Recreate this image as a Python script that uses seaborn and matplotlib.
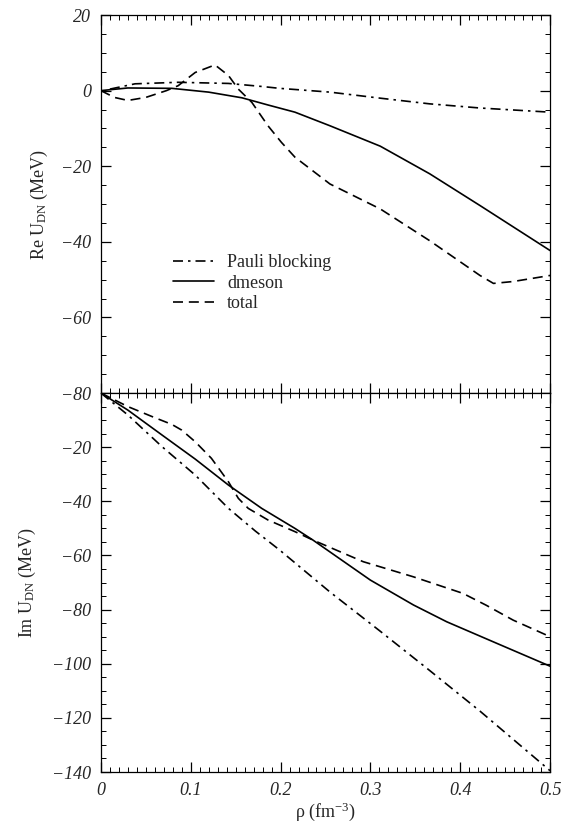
import numpy as np
import pandas as pd
import matplotlib
matplotlib.use("Agg")
import matplotlib.pyplot as plt
from matplotlib.ticker import MultipleLocator
import seaborn as sns

# --- data (rho in fm^-3, U in MeV) ---
# real part
pauli_re_x = [0.01, 0.038, 0.086, 0.142, 0.179, 0.199, 0.216, 0.255, 0.311, 0.366, 0.422, 0.5]
pauli_re_y = [0.4, 1.8, 2.2, 1.9, 1.1, 0.6, 0.3, -0.4, -2.0, -3.5, -4.6, -5.7]

dmeson_re_x = [0.0, 0.03, 0.079, 0.12, 0.157, 0.186, 0.216, 0.255, 0.311, 0.366, 0.422, 0.5]
dmeson_re_y = [0.0, 0.7, 0.6, -0.4, -1.9, -3.8, -5.7, -9.3, -14.7, -22.0, -30.4, -42.3]

total_re_x = [0.0, 0.015, 0.03, 0.05, 0.073, 0.086, 0.105, 0.127, 0.142, 0.153, 0.168, 0.186,
              0.201, 0.216, 0.255, 0.311, 0.366, 0.422, 0.437, 0.459, 0.5]
total_re_y = [0.0, -1.8, -2.6, -1.8, 0.0, 1.3, 4.8, 6.8, 4.0, 0.4, -3.1, -9.3,
              -13.7, -17.6, -24.7, -31.3, -39.7, -48.9, -51.0, -50.5, -48.9]

# imaginary part
pauli_im_x = [0.0, 0.03, 0.068, 0.105, 0.142, 0.172, 0.199, 0.255, 0.311, 0.366, 0.422, 0.5]
pauli_im_y = [0.0, -8.1, -19.8, -30.3, -42.6, -51.0, -58.0, -73.5, -88.0, -102.5, -117.5, -139.5]

dmeson_im_x = [0.0, 0.03, 0.068, 0.105, 0.142, 0.179, 0.216, 0.236, 0.3, 0.348, 0.385, 0.441, 0.5]
dmeson_im_y = [0.0, -6.3, -15.5, -24.4, -34.0, -42.6, -50.0, -54.3, -69.1, -78.3, -84.5, -92.5, -100.9]

total_im_x = [0.0, 0.03, 0.057, 0.079, 0.09, 0.105, 0.123, 0.142, 0.153, 0.164, 0.186, 0.216,
              0.236, 0.292, 0.348, 0.403, 0.429, 0.459, 0.5]
total_im_y = [0.0, -5.0, -8.7, -11.6, -13.7, -18.0, -24.1, -32.8, -38.9, -42.6, -46.9, -51.2,
              -54.3, -62.3, -67.9, -74.0, -78.4, -83.9, -90.0]

labels = ["Pauli blocking", "dmeson", "total"]
re_ticks = [-80, -60, -40, -20, 0, 20]
im_ticks = [-140, -120, -100, -80, -60, -40, -20]
x_ticks = [0, 0.1, 0.2, 0.3, 0.4, 0.5]
x_ticklabels = ["0", "0.1", "0.2", "0.3", "0.4", "0.5"]

# --- style ---
sns.set_style("ticks")
plt.rcParams["font.family"] = ["Liberation Serif", "DejaVu Serif"]
plt.rcParams["mathtext.fontset"] = "custom"
plt.rcParams["mathtext.rm"] = "Liberation Serif"
plt.rcParams["mathtext.it"] = "Liberation Serif:italic"
plt.rcParams["axes.linewidth"] = 0.9
plt.rcParams["axes.edgecolor"] = "black"

dash = (0, (6, 3.5))
dashdot = (0, (6, 3, 1.5, 3))

fig = plt.figure(figsize=(5.7, 8.25), dpi=100)
ax_re = fig.add_axes([0.177, 0.5236, 0.788, 0.4582])
ax_im = fig.add_axes([0.177, 0.0642, 0.788, 0.4594], sharex=ax_re)

series = [
    (ax_re, pauli_re_x, pauli_re_y, dashdot, labels[0]),
    (ax_re, dmeson_re_x, dmeson_re_y, "-", labels[1]),
    (ax_re, total_re_x, total_re_y, dash, labels[2]),
    (ax_im, pauli_im_x, pauli_im_y, dashdot, None),
    (ax_im, dmeson_im_x, dmeson_im_y, "-", None),
    (ax_im, total_im_x, total_im_y, dash, None),
]
for ax, xs, ys, ls, lab in series:
    sns.lineplot(x=xs, y=ys, ax=ax, color="black", linestyle=ls, linewidth=1.2,
                 label=lab, legend=False)

# axes limits / ticks
for ax in (ax_re, ax_im):
    ax.set_xlim(0, 0.5)
    ax.xaxis.set_minor_locator(MultipleLocator(0.01))
    ax.yaxis.set_minor_locator(MultipleLocator(5))
    ax.tick_params(which="both", direction="in", top=True, right=True, color="black")
    ax.tick_params(which="major", length=7, width=0.9, labelsize=13, pad=7)
    ax.tick_params(which="minor", length=3.5, width=0.7)

ax_re.set_ylim(-80, 20)
ax_re.set_yticks(re_ticks)
ax_re.tick_params(axis="x", labelbottom=False)

ax_im.set_ylim(-140, 0)
ax_im.set_yticks(im_ticks)
ax_im.set_xticks(x_ticks)
ax_im.set_xticklabels(x_ticklabels)

for ax in (ax_re, ax_im):
    for lbl in ax.get_xticklabels() + ax.get_yticklabels():
        lbl.set_fontstyle("italic")

ax_re.set_ylabel(r"Re U$_{\mathrm{DN}}$ (MeV)", fontsize=13)
ax_im.set_ylabel(r"Im U$_{\mathrm{DN}}$ (MeV)", fontsize=13)
ax_re.yaxis.set_label_coords(-0.114, 0.5)
ax_im.yaxis.set_label_coords(-0.14, 0.5)
ax_im.set_xlabel("ρ (fm$^{-3}$)", fontsize=13, labelpad=1)

handles, labs = ax_re.get_legend_handles_labels()
ax_re.legend(handles, labs, loc="center left", bbox_to_anchor=(0.16, 0.291),
             frameon=False, fontsize=13, handlelength=2.3, handletextpad=0.7,
             labelspacing=0.2, borderpad=0, borderaxespad=0)

fig.savefig("out.png", dpi=100)
